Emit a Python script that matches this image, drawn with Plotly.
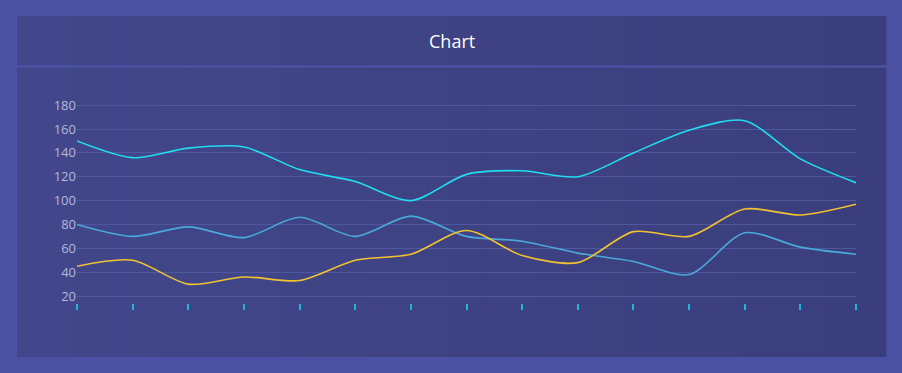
import plotly.graph_objects as go

categories = list(range(15))
series_a = [150, 136, 144, 145, 126, 116, 100, 122, 125, 120, 140, 159, 167, 135, 115]
series_b = [80, 70, 78, 69, 86, 70, 87, 70, 66, 56, 49, 38, 73, 61, 55]
series_c = [45, 50, 30, 36, 33, 50, 55, 75, 54, 48, 74, 70, 93, 88, 97]
y_ticks = [20, 40, 60, 80, 100, 120, 140, 160, 180]

W, H = 902, 373
L, R, T, B = 77, 46, 104, 70
pw, ph = W - L - R, H - T - B

def px(x):
    return (x - L) / pw

def py(y):
    return (H - B - y) / ph

fig = go.Figure()
colors = ["#22dcef", "#4aa9da", "#f1c232"]
for s, c in zip([series_a, series_b, series_c], colors):
    fig.add_trace(go.Scatter(x=categories, y=s, mode="lines",
                             line=dict(color=c, width=1.6, shape="spline", smoothing=0.8),
                             hoverinfo="skip", showlegend=False))

shapes = []
n = 30
x0, x1, y0, y1 = 17, 886, 16, 357
c_left = (0x41, 0x47, 0x8a)
c_right = (0x3b, 0x3e, 0x7c)
for i in range(n):
    t = i / (n - 1)
    col = tuple(int(round(a + (b - a) * t)) for a, b in zip(c_left, c_right))
    xa = x0 + (x1 - x0) * i / n
    xb = x0 + (x1 - x0) * (i + 1) / n + 0.5
    shapes.append(dict(type="rect", xref="paper", yref="paper", layer="below",
                       x0=px(xa), x1=px(xb), y0=py(y1), y1=py(y0),
                       line=dict(width=0), fillcolor="rgb(%d,%d,%d)" % col))
shapes.append(dict(type="line", xref="paper", yref="paper", layer="below",
                   x0=px(17), x1=px(887), y0=py(66.5), y1=py(66.5),
                   line=dict(color="#4d55a9", width=2)))

fig.update_layout(
    width=W, height=H,
    margin=dict(l=L, r=R, t=T, b=B),
    paper_bgcolor="#4b51a2",
    plot_bgcolor="rgba(0,0,0,0)",
    shapes=shapes,
    annotations=[dict(text="Chart", xref="paper", yref="paper", x=px(452), y=py(41),
                      showarrow=False, font=dict(color="#ffffff", size=18, family="Open Sans"),
                      xanchor="center", yanchor="middle")],
    xaxis=dict(range=[0, 14], tickmode="array", tickvals=categories, showticklabels=False,
               ticks="outside", ticklen=6, tickwidth=1.5, tickcolor="#25b3da",
               showgrid=False, zeroline=False, showline=False,
               anchor="free", position=0),
    yaxis=dict(range=[19, 181], domain=[0.029, 1], tickvals=y_ticks,
               gridcolor="#50579f", gridwidth=1, zeroline=False, showline=False,
               tickfont=dict(color="#b3b8de", size=13, family="Open Sans")),
)
fig.write_html("out.html", config={"displayModeBar": False},
               post_script="document.body.style.margin='0';document.body.style.padding='0';document.body.style.overflow='hidden';")
